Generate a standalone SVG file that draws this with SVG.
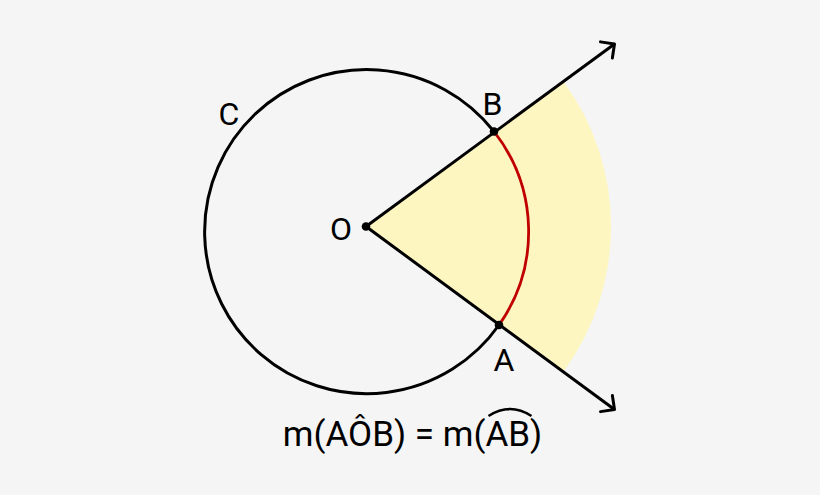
<svg xmlns="http://www.w3.org/2000/svg" width="820" height="495" viewBox="0 0 820 495">
  <defs>
    <style>
      .lbl { font-family: Roboto, "Liberation Sans", sans-serif; font-size: 32px; fill: #000; text-anchor: middle; }
      .formula { font-family: Roboto, "Liberation Sans", sans-serif; font-size: 35px; fill: #000; text-anchor: middle; }
      .line { stroke: #000; stroke-width: 3; fill: none; }
      .dot { fill: #000; }
    </style>
    <marker id="arrow" markerUnits="userSpaceOnUse" viewBox="-12 -12 14 24" refX="0" refY="0" markerWidth="14" markerHeight="24" orient="auto" overflow="visible">
      <path d="M-10,-10 L0,0 L-10,10" fill="none" stroke="#000" stroke-width="3" stroke-linecap="round" stroke-linejoin="round"/>
    </marker>
  </defs>
  <rect width="820" height="495" fill="#F5F5F5"/>

  <g id="sector">
    <path d="M366,226.5 L563.8,81.9 A245,245 0 0 1 563.5,371.6 Z" fill="#FDF6C1"/>
  </g>

  <g id="circle-C">
    <path d="M494,131.5 A162,162 0 1 0 499,325" class="line"/>
  </g>

  <g id="arc-AB">
    <path d="M494,131.5 A162,162 0 0 1 499,325" fill="none" stroke="#C00000" stroke-width="2.8"/>
  </g>

  <g id="connectors">
    <line x1="366" y1="226.5" x2="614.5" y2="44" class="line" marker-end="url(#arrow)"/>
    <line x1="366" y1="226.5" x2="614.5" y2="409.5" class="line" marker-end="url(#arrow)"/>
  </g>

  <g id="point-O">
    <circle cx="366" cy="226.5" r="4.3" class="dot"/>
    <text x="341" y="239.5" class="lbl">O</text>
  </g>
  <g id="point-B">
    <circle cx="494" cy="131.5" r="4.3" class="dot"/>
    <text x="492.5" y="114.5" class="lbl">B</text>
  </g>
  <g id="point-A">
    <circle cx="499" cy="325" r="4.3" class="dot"/>
    <text x="504" y="371" class="lbl">A</text>
  </g>
  <g id="label-C">
    <text x="229" y="125" class="lbl">C</text>
  </g>

  <g id="formula">
    <text x="412.5" y="445.5" class="formula">m(AÔB) = m(AB)</text>
    <path d="M488.5,416 Q510,402 531.5,416" fill="none" stroke="#000" stroke-width="2.5"/>
  </g>
</svg>
